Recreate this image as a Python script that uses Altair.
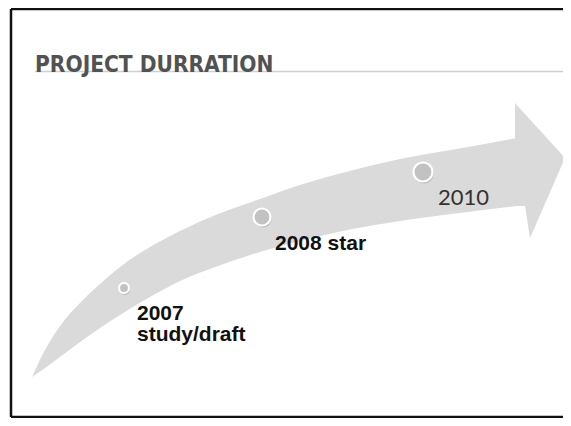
import altair as alt
import pandas as pd

# ---- data (pixel coordinates of the slide) ----
body_x     = [32, 45, 60, 80, 100, 128, 150, 180, 218, 260, 300, 338, 400, 468, 517]
body_upper = [377, 350, 326, 303, 284, 261, 247, 231, 214, 199, 185, 174, 159, 147, 138]
body_lower = [377, 368, 357, 342, 328, 310, 297, 281, 266, 252, 241, 232, 221, 212, 206]

head_x     = [515, 525, 530, 565]
head_upper = [103, 114, 119.5, 158]
head_lower = [206, 206, 238, 158]

milestone_x    = [124, 262, 423]
milestone_y    = [288, 217, 172]
milestone_size = [100, 289, 361]

label_text = ["2007", "study/draft", "2008 star", "2010"]
label_x    = [137, 137, 275, 438]
label_y    = [320, 341, 250, 205]

title_text = ["PROJECT DURRATION"]
title_x = [35]
title_y = [72]

X0, X1, Y0, Y1 = 8, 563, 8, 418
xs = alt.Scale(domain=[X0, X1], nice=False, zero=False)
ys = alt.Scale(domain=[Y0, Y1], nice=False, zero=False, reverse=True)

body = pd.DataFrame({"x": body_x, "y": body_upper, "y2": body_lower})
head = pd.DataFrame({"x": head_x, "y": head_upper, "y2": head_lower})
ms = pd.DataFrame({"x": milestone_x, "y": milestone_y, "s": milestone_size})
labels = pd.DataFrame({"t": label_text, "x": label_x, "y": label_y})
title = pd.DataFrame({"t": title_text, "x": title_x, "y": title_y})

frame = pd.DataFrame({
    "x": [11, 11, 11], "x2": [11, 600, 600],
    "y": [9, 9, 417], "y2": [417, 9, 417],
})
underline = pd.DataFrame({"x": [35], "x2": [600], "y": [71.5], "y2": [71.5]})

def enc_xy():
    return dict(x=alt.X("x:Q", scale=xs, axis=None), y=alt.Y("y:Q", scale=ys, axis=None))

body_area = alt.Chart(body).mark_area(color="#dadada", interpolate="monotone").encode(
    **enc_xy(), y2="y2:Q")
head_area = alt.Chart(head).mark_area(color="#dadada", interpolate="linear").encode(
    **enc_xy(), y2="y2:Q")

shadow = alt.Chart(ms).mark_circle(color="#7a7a7a", opacity=0.35, xOffset=1, yOffset=2).encode(
    **enc_xy(), size=alt.Size("s:Q", scale=None))
dots = alt.Chart(ms).mark_circle(color="#c2c2c2", opacity=1, stroke="white", strokeWidth=2.2).encode(
    **enc_xy(), size=alt.Size("s:Q", scale=None))

lab_bold = alt.Chart(labels).transform_filter(alt.datum.t != "2010").mark_text(
    align="left", baseline="alphabetic", font="Liberation Sans", fontSize=21,
    fontWeight="bold", color="#111111").encode(**enc_xy(), text="t:N")
lab_reg = alt.Chart(labels).transform_filter(alt.datum.t == "2010").mark_text(
    align="left", baseline="alphabetic", font="Lato", fontSize=22,
    fontWeight="normal", color="#333333").encode(**enc_xy(), text="t:N")

uline = alt.Chart(underline).mark_rule(color="#cfcfcf", strokeWidth=1.5, clip=True).encode(
    **enc_xy(), x2="x2:Q", y2="y2:Q")
title_mark = alt.Chart(title).mark_text(
    align="left", baseline="alphabetic", font="DejaVu Sans Condensed",
    fontSize=22.5, fontWeight="bold", color="#525252").encode(**enc_xy(), text="t:N")

border = alt.Chart(frame).mark_rule(color="#111111", strokeWidth=2.5, clip=True).encode(
    **enc_xy(), x2="x2:Q", y2="y2:Q")

chart = alt.layer(
    body_area, head_area, shadow, dots, lab_bold, lab_reg, uline, title_mark, border
).properties(
    width=X1 - X0, height=Y1 - Y0, padding=0,
    autosize=alt.AutoSizeParams(type="none"),
    background="white",
).configure_view(stroke=None)

chart.save("out.html", embed_options={"renderer": "svg", "actions": False})
